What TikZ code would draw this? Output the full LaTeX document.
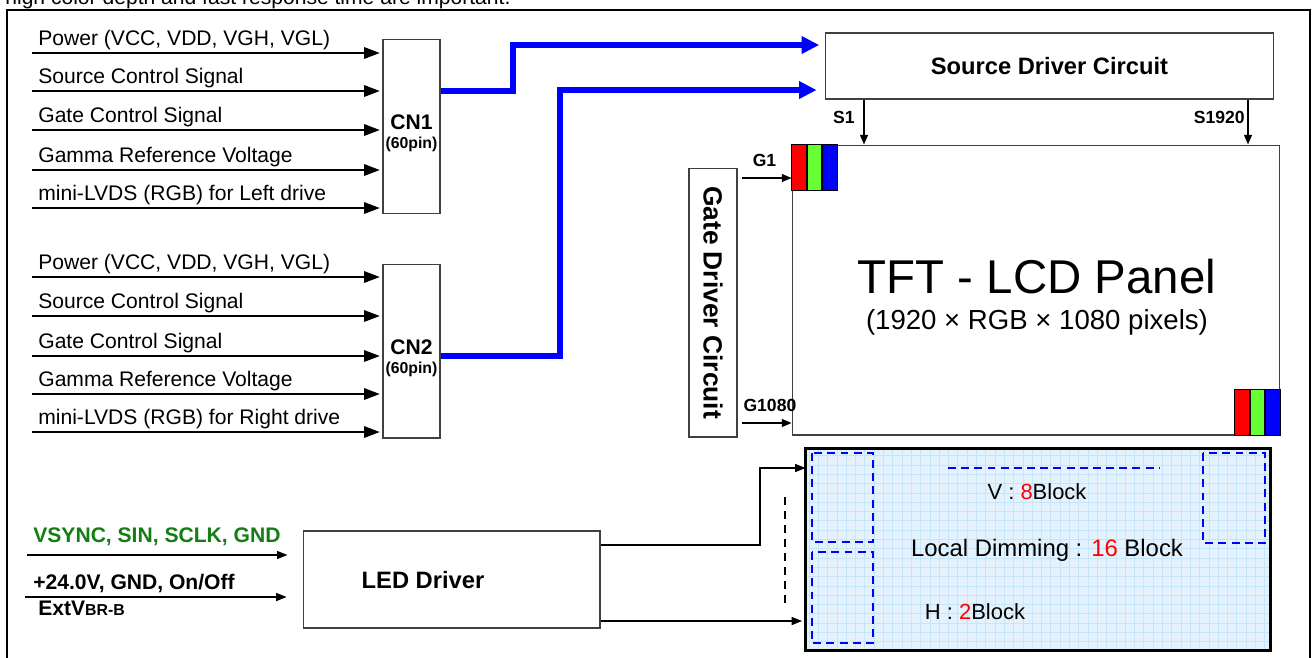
\documentclass[tikz,border=0pt]{standalone}
\usepackage{fontspec}
\setmainfont{Liberation Sans}
\usetikzlibrary{arrows.meta, positioning}
\definecolor{pixgreen}{RGB}{102,255,51}
\definecolor{blfill}{RGB}{227,242,253}
\definecolor{blgrid}{RGB}{200,228,248}
\definecolor{ctlgreen}{RGB}{20,125,20}

\begin{document}
\begin{tikzpicture}[
    x=0.02cm, y=-0.02cm,
    block/.style={draw=black!75, line width=0.6pt, inner sep=0pt},
    conn/.style={block, minimum width=1.14cm, minimum height=3.48cm},
    conn_text/.style={align=center, inner sep=0pt},
    sig/.style={-{Triangle[length=9pt, width=6.5pt]}, line width=1.1pt, shorten >=1.5pt},
    sig_text/.style={anchor=base west, inner sep=0pt, font=\fontsize{12}{14}\selectfont},
    bus/.style={-{Triangle[length=10pt, width=9.5pt]}, line width=3.4pt, blue},
    tap/.style={-{Triangle[length=5.5pt, width=4.5pt]}, line width=0.75pt},
    tap_text/.style={font=\bfseries\fontsize{10}{12}\selectfont, inner sep=0pt},
    led_arrow/.style={-{Triangle[length=6pt, width=4.5pt]}, line width=0.9pt},
    cell/.style={draw, line width=1.1pt},
    zone/.style={draw=blue, dash pattern=on 4.5pt off 3pt, line width=1.1pt}
]
    \useasboundingbox (0,0) rectangle (1312,657);

    % page text and frame
    \node[anchor=base west, inner sep=0pt, font=\fontsize{12}{14}\selectfont] (hdr) at (5,4) {high color depth and fast response time are important.};
    \draw[line width=0.9pt] (7,10) rectangle (1310,720);

    % connectors
    \node[conn] (cn1) at (411.5,126.5) {};
    \node[conn_text] (cn1t) at (411.5,133) {{\bfseries\fontsize{12}{13}\selectfont CN1}\\[-1pt]{\bfseries\fontsize{9}{10}\selectfont (60pin)}};
    \node[conn] (cn2) at (411.5,351) {};
    \node[conn_text] (cn2t) at (411.5,358) {{\bfseries\fontsize{12}{13}\selectfont CN2}\\[-1pt]{\bfseries\fontsize{9}{10}\selectfont (60pin)}};

    \foreach \y/\txt [count=\i] in {53/{Power (VCC, VDD, VGH, VGL)}, 91/{Source Control Signal}, 130/{Gate Control Signal}, 170/{Gamma Reference Voltage}, 208/{mini-LVDS (RGB) for Left drive}} {
        \node[sig_text] (la\i) at (38,\y-8) {\txt};
        \coordinate (a\i) at (32,\y);
        \draw[sig] (a\i) -- (a\i -| cn1.west);
    }
    \foreach \y/\txt [count=\i] in {277/{Power (VCC, VDD, VGH, VGL)}, 316/{Source Control Signal}, 356/{Gate Control Signal}, 394/{Gamma Reference Voltage}, 432/{mini-LVDS (RGB) for Right drive}} {
        \node[sig_text] (lb\i) at (38,\y-8) {\txt};
        \coordinate (b\i) at (32,\y);
        \draw[sig] (b\i) -- (b\i -| cn2.west);
    }

    % drivers and panel
    \node[block, minimum width=8.98cm, minimum height=1.32cm, font=\bfseries\fontsize{13.5}{16}\selectfont] (src) at (1049.5,66) {Source Driver Circuit};
    \node[block, minimum width=9.76cm, minimum height=5.8cm] (panel) at (1036,290) {};
    \node[font=\fontsize{27}{30}\selectfont] (tft) at (1037,277) {TFT - LCD Panel};
    \node[font=\fontsize{15.7}{18}\selectfont] (res) at (1037,322) {(1920 × RGB × 1080 pixels)};
    \node[block, minimum width=0.96cm, minimum height=5.38cm] (gate) at (713,302.5) {};
    \node[rotate=-90, font=\bfseries\fontsize{15}{18}\selectfont] (gatet) at (gate.center) {Gate Driver Circuit};

    \draw[bus, shorten >=3pt] (cn1.east |- 0,91) -| (513,45) -- (src.west |- 0,45);
    \draw[bus, shorten >=4.5pt] (cn2.east |- 0,356) -| (560,90) -- (src.west |- 0,90);

    \draw[tap] (src.south -| 864,0) -- node[tap_text, left=5pt, pos=0.4] {S1} (panel.north -| 864,0);
    \draw[tap] (src.south -| 1248,0) -- node[tap_text, left=1.5pt, pos=0.4] {S1920} (panel.north -| 1248,0);
    \draw[tap, shorten <=2.8pt] (gate.east |- 0,178) -- node[tap_text, above=6pt] {G1} (panel.west |- 0,178);
    \draw[tap, shorten <=2.8pt] (gate.east |- 0,423) -- node[tap_text, above=6pt, pos=0.6] {G1080} (panel.west |- 0,423);

    % pixels
    \foreach \c [count=\i from 0] in {red,pixgreen,blue} {
        \draw[cell, fill=\c] (panel.north west) ++(\i*15.33,0) rectangle ++(15.33,46);
        \draw[cell, fill=\c] (panel.south east) ++(-46+\i*15.33,-46) rectangle ++(15.33,46);
    }

    % backlight
    \node[fill=blfill, minimum width=9.28cm, minimum height=4.02cm, inner sep=0pt] (bl) at (1038,549.5) {};
    \draw[blgrid, line width=0.3pt, step=0.186cm] (bl.south west) grid (bl.north east);
    \draw[line width=1.5pt] (bl.north west) rectangle (bl.south east);
    \draw[zone] (812,453) rectangle (873,542);
    \draw[zone] (812,552) rectangle (873,643);
    \draw[zone] (1203,453) rectangle (1265,543);
    \draw[zone] (948,468) -- (1160,468);
    \node[font=\fontsize{12.5}{15}\selectfont] (vblk) at (1037,492) {V : \textcolor{red}{8}Block};
    \node[font=\fontsize{13.6}{16}\selectfont] (ldim) at (1047,550) {Local Dimming : \textcolor{red}{16} Block};
    \node[font=\fontsize{12.5}{15}\selectfont] (hblk) at (975,612) {H : \textcolor{red}{2}Block};
    \draw[line width=0.8pt, dash pattern=on 4.5pt off 3.5pt] (785,497) -- (785,605);

    % LED driver
    \node[block, minimum width=5.94cm, minimum height=1.94cm] (led) at (451.5,579.5) {};
    \node[font=\bfseries\fontsize{13.5}{16}\selectfont] (ledt) at (423,580) {LED Driver};
    \draw[led_arrow] (led.east |- 0,545) -| (760,468) -- (bl.west |- 0,468);
    \draw[led_arrow, shorten >=2pt] (led.east |- 0,621) -- (bl.west |- 0,621);

    \node[sig_text, font=\bfseries\fontsize{12}{14}\selectfont, text=ctlgreen] (vsync) at (33,542) {VSYNC, SIN, SCLK, GND};
    \coordinate (vin) at (27,555);
    \draw[led_arrow, shorten >=8.5pt] (vin) -- (vin -| led.west);
    \node[sig_text, font=\bfseries\fontsize{12}{14}\selectfont] (pwr) at (33,589) {+24.0V, GND, On/Off};
    \coordinate (pin) at (25,597);
    \draw[led_arrow, shorten >=9pt] (pin) -- (pin -| led.west);
    \node[sig_text, font=\bfseries\fontsize{12}{14}\selectfont] (ext) at (38,615) {ExtV{\fontsize{9}{10}\selectfont BR-B}};
\end{tikzpicture}
\end{document}
